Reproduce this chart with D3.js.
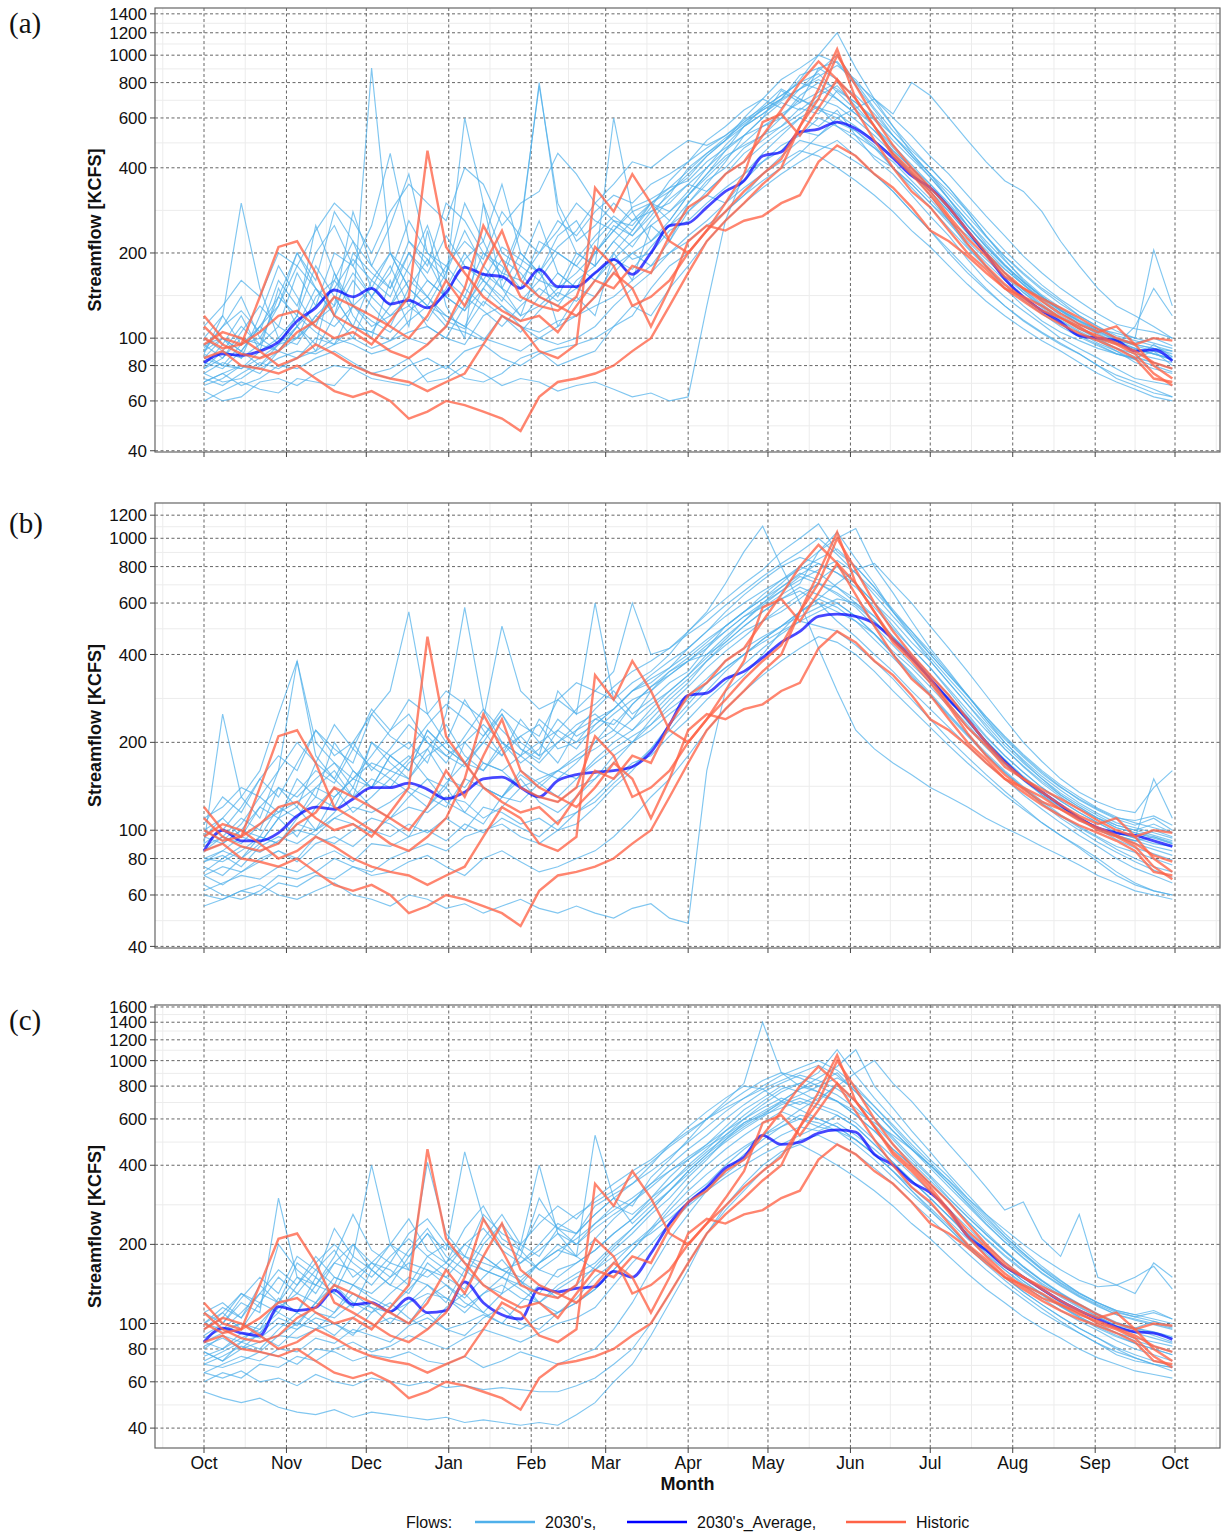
<!DOCTYPE html>
<html>
<head>
<meta charset="utf-8">
<script src="https://cdn.jsdelivr.net/npm/d3@7"></script>
<style>
    html, body { margin:0; padding:0; background:#fff; }
    svg text { font-family:"Liberation Sans", Arial, sans-serif; fill:#111; }
</style>
</head>
<body>
<svg id="chart" width="1222" height="1534"></svg>
<script>
(function(window) {
    'use strict';

    /******************************************************************
        data: sample days (days since Oct 1), ticks, series
     ******************************************************************/
    var days = [0,7,14,21,28,35,42,49,56,63,70,77,84,91,98,105,112,119,126,133,
                140,147,154,161,168,175,182,189,196,203,210,217,224,231,238,245,
                252,259,266,273,280,287,294,301,308,315,322,329,336,343,350,357,364];

    var monthDays = [0,31,61,92,123,151,182,212,243,273,304,335,365];
    var monthLabels = ['Oct','Nov','Dec','Jan','Feb','Mar','Apr','May','Jun','Jul','Aug','Sep','Oct'];

    var ticksA = [40,60,80,100,200,400,600,800,1000,1200,1400];
    var ticksB = [40,60,80,100,200,400,600,800,1000,1200];
    var ticksC = [40,60,80,100,200,400,600,800,1000,1200,1400,1600];

    // historic flows (same in every panel)
    var historic = [
        [100,92,95,105,120,125,110,100,105,95, 115,140,460,210,170,140,125,115,120,105,
         130,160,150,180,170,230,290,320,380,420, 520,640,800,950,820,700,560,450,390,330,
         270,225,195,165,150,138,128,118,108,100, 95,100,98],
        [120,100,95,140,210,220,170,120,110,100, 90,85,95,110,150,250,190,140,130,125,
         140,210,180,130,140,160,200,240,280,330, 380,430,560,700,1000,780,600,480,400,340,
         290,240,200,170,150,135,122,112,105,110, 95,80,72],
        [85,90,80,78,75,80,72,65,62,65, 60,52,55,60,58,55,52,47,62,70,
         72,75,80,90,100,130,170,220,260,300, 350,400,560,760,1050,700,560,440,380,320,
         265,215,180,155,138,125,118,110,100,95, 88,75,68],
        [95,105,100,90,80,85,95,88,80,75, 72,70,65,70,75,95,120,110,90,85,
         95,340,280,380,300,220,200,240,300,380, 580,620,520,650,820,640,500,400,330,290,
         240,200,175,150,135,122,112,104,98,92, 85,72,70],
        [110,95,88,85,90,105,115,140,130,120, 110,100,120,160,130,180,240,160,140,130,
         120,140,170,150,110,150,220,250,240,260, 270,300,320,420,480,440,380,340,290,240,
         220,195,170,150,140,130,118,108,102,96, 90,82,78]
    ];

    var meanA = [82,88,87,90,97,115,128,148,140,150, 132,136,128,145,178,168,165,150,175,152,
                 152,170,190,168,200,250,255,290,330,360, 440,455,535,548,580,550,495,433,375,340,
                 290,240,198,162,140,125,114,102,100,98, 90,91,83];
    var meanB = [85,100,92,92,98,112,120,118,128,140, 140,145,138,128,135,150,152,140,130,148,
                 155,158,160,165,185,230,290,295,330,350, 390,440,480,540,550,540,510,450,390,330,
                 280,240,200,172,150,135,122,110,102,98, 96,92,88];
    var meanC = [85,96,92,90,116,112,115,134,118,120, 111,125,110,112,144,120,108,104,136,132,
                 136,138,158,150,185,240,288,330,390,430, 520,480,490,530,545,535,440,400,345,315,
                 270,215,190,165,150,135,122,112,104,97, 93,92,87];

    var runsA = [
        [80,95,120,90,150,110,95,170,120,100, 160,110,240,130,100,300,150,120,180,110,
         140,120,200,160,250,220,300,350,420,520, 600,750,680,900,820,700,560,450,380,320,
         260,210,180,150,130,115,105,98,92,88, 85,90,80],
        [70,75,68,72,80,78,85,90,82,75, 78,85,70,72,80,75,68,72,70,65,
         68,70,66,62,64,60,62,130,260,380, 450,520,600,560,640,520,430,380,320,270,
         230,190,160,140,125,112,100,92,85,78, 72,70,68],
        [90,110,140,100,130,200,160,280,220,180, 250,380,200,170,300,220,160,240,800,280,
         200,180,220,260,300,280,330,400,480,560, 620,700,820,1000,1200,900,700,560,450,380,
         310,250,210,180,155,135,120,110,100,95, 110,150,120],
        [85,80,78,90,100,95,120,140,110,105, 130,160,140,120,110,150,190,170,140,130,
         160,180,220,190,200,240,260,300,340,380, 420,480,520,600,560,520,470,420,360,310,
         260,220,190,165,145,130,118,108,100,92, 88,85,82],
        [75,70,72,80,90,100,120,110,130,900, 200,150,130,120,110,100,95,90,100,110,
         120,140,180,200,220,260,320,380,460,560, 650,720,800,760,700,620,540,460,400,340,
         290,240,200,170,145,128,115,105,96,90, 82,78,75],
        [95,100,90,110,130,180,150,120,200,170, 150,220,190,160,600,300,200,180,160,150,
         170,200,250,230,280,300,350,330,380,450, 500,560,650,620,750,680,600,520,440,380,
         330,280,230,195,170,150,135,120,110,100, 95,92,90],
        [65,60,62,70,72,68,75,80,78,72, 70,68,75,80,72,70,75,85,90,80,
         85,90,110,120,150,180,200,240,280,320, 380,440,500,480,460,420,380,330,280,240,
         200,170,148,130,116,105,96,88,80,72, 68,64,62],
        [100,90,85,95,110,100,140,160,130,150, 200,170,140,180,150,130,170,250,780,300,
         220,250,300,260,280,320,400,450,500,600, 700,650,760,880,1000,800,650,540,460,400,
         340,280,230,190,160,140,125,112,104,96, 92,88,85],
        [88,120,300,150,100,120,250,170,130,110, 120,140,110,100,130,160,140,120,130,150,
         200,180,600,280,220,250,280,330,380,420, 480,540,600,660,560,500,440,400,350,300,
         260,230,200,175,155,138,125,115,108,104, 100,205,130],
        [78,85,100,95,90,110,130,200,180,250, 450,220,180,300,260,200,170,160,200,240,
         300,260,240,280,300,340,360,420,470,520, 560,600,700,650,620,560,500,440,380,330,
         280,235,200,170,148,130,116,106,98,90, 84,80,76],
        [72,68,75,82,78,85,90,100,95,88, 92,100,95,110,105,98,120,110,100,95,
         100,110,130,150,170,200,230,260,300,340, 380,420,460,440,400,360,320,280,240,210,
         180,155,135,120,108,98,90,82,75,70, 66,62,60],
        [110,130,160,140,200,180,240,300,260,200, 280,350,300,260,400,350,250,300,330,450,
         380,300,350,420,400,450,500,480,520,580, 640,700,850,900,950,800,700,600,520,440,
         380,320,270,230,195,170,150,135,122,112, 108,105,100],
        [82,78,90,110,95,100,115,130,170,140, 120,130,160,140,125,150,130,115,140,170,
         150,140,170,200,180,220,280,320,300,360, 420,460,540,520,580,540,480,400,350,300,
         255,215,185,160,140,125,112,102,95,88, 85,82,78],
        [90,100,85,120,180,140,110,160,220,150, 130,180,250,160,140,200,180,150,220,200,
         180,160,200,240,300,260,320,380,440,480, 520,600,720,800,700,620,540,460,400,350,
         300,250,210,180,158,140,126,115,106,98, 95,92,88],
        [70,75,80,78,85,90,88,95,100,92, 98,105,110,100,95,120,130,110,105,115,
         120,130,140,160,180,200,220,250,280,320, 360,400,450,520,600,650,700,620,800,720,
         600,500,420,360,330,280,220,180,150,130, 120,110,100],
        [60,65,70,66,64,72,70,68,80,75, 72,80,85,78,90,95,85,80,88,92,
         95,100,110,130,120,150,180,220,260,300, 340,380,420,460,500,440,380,330,280,240,
         205,175,150,130,115,104,95,88,80,74, 70,66,62],
        [95,85,105,130,110,170,130,150,190,160, 140,200,170,230,180,160,210,190,170,230,
         260,200,240,290,310,340,390,450,510,570, 640,700,760,820,760,680,590,500,430,370,
         310,260,220,188,162,142,128,116,107,100, 96,100,94],
        [85,100,90,80,95,120,105,95,130,115, 105,125,140,115,108,135,120,105,125,145,
         135,160,190,175,210,250,300,360,400,470, 520,560,620,700,660,590,520,450,385,330,
         280,235,198,170,148,132,118,108,99,92, 86,82,78],
        [78,90,110,95,140,120,180,140,110,160, 200,150,130,170,240,180,150,200,170,140,
         190,230,270,240,290,360,420,500,560,640, 700,820,900,1000,940,780,640,520,440,370,
         310,260,215,182,158,140,125,114,105,98, 92,88,84],
        [100,120,95,110,140,200,150,130,280,180, 150,200,160,140,190,220,350,200,170,210,
         240,300,260,230,270,330,370,440,500,580, 660,760,700,640,600,540,470,400,340,290,
         245,208,178,154,136,122,110,101,94,88, 84,95,86],
        [68,72,80,75,90,85,100,95,110,105, 98,115,130,110,140,125,110,130,150,135,
         150,170,190,220,250,280,320,370,430,490, 560,620,680,740,800,720,620,520,450,380,
         320,270,228,194,168,148,132,120,110,102, 98,94,90],
        [88,80,95,100,90,110,150,120,100,140, 180,130,115,150,200,160,135,180,260,170,
         150,200,240,210,260,310,350,400,460,520, 600,680,640,720,780,660,560,470,400,340,
         285,240,205,176,154,137,123,112,103,96, 91,88,84],
        [75,82,78,85,95,110,90,120,160,130, 110,150,190,140,125,170,150,135,160,200,
         180,220,260,250,300,330,380,440,500,560, 620,690,760,840,920,820,680,560,470,400,
         340,285,240,204,176,154,137,124,114,106, 100,96,92],
        [92,110,125,105,160,130,200,250,180,140, 170,260,200,180,220,190,280,230,200,260,
         230,280,320,300,350,380,420,470,520,590, 650,720,800,860,740,640,560,480,410,350,
         295,250,212,182,158,140,126,115,106,99, 94,90,86]
    ];

    var runsB = [
        [60,58,62,65,60,58,62,66,60,58, 55,60,58,54,56,52,55,58,54,52,
         55,52,50,54,56,50,48,160,300,340, 400,480,560,600,520,460,400,350,300,260,
         225,195,170,150,132,118,106,96,88,80, 74,70,66],
        [90,250,130,110,160,380,180,150,200,250, 300,560,250,200,280,220,180,240,200,170,
         220,260,300,250,280,320,350,420,500,560, 620,700,800,760,680,600,520,450,390,330,
         280,235,200,172,150,132,118,108,100,95, 92,100,95],
        [80,85,95,90,110,120,100,130,150,140, 160,180,150,140,200,170,160,180,200,220,
         260,300,280,320,350,400,480,560,700,900, 1100,800,600,420,300,220,190,170,155,140,
         130,120,110,102,95,88,82,76,70,66, 62,60,58],
        [75,70,80,95,90,110,130,120,160,140, 180,200,170,250,580,260,200,180,160,150,
         170,200,240,220,260,300,340,400,460,520, 600,680,750,820,760,700,600,500,420,360,
         300,250,210,180,158,140,126,115,106,98, 94,90,88],
        [100,110,95,120,140,130,150,170,140,200, 180,160,220,190,170,210,250,200,180,300,
         250,600,280,240,300,350,380,420,480,540, 580,640,700,900,1050,850,700,560,460,380,
         320,270,225,190,165,145,130,118,110,104, 100,105,98],
        [65,60,58,62,70,68,72,80,75,70, 72,78,82,75,70,80,85,78,72,75,
         80,85,95,110,130,150,180,220,260,300, 340,380,420,460,440,400,350,300,260,225,
         195,170,150,132,118,106,96,88,80,72, 66,62,60],
        [85,90,100,95,120,110,140,160,130,150, 140,170,190,150,140,170,160,140,150,160,
         180,200,220,200,240,280,320,380,430,480, 520,560,620,700,640,580,500,430,370,320,
         270,230,195,170,150,134,120,110,102,96, 92,88,85],
        [78,82,75,88,95,90,100,110,105,98, 110,120,115,130,125,110,120,140,130,125,
         140,150,170,200,220,250,280,320,360,400, 450,500,560,620,700,780,820,700,600,500,
         420,350,290,240,200,172,150,135,125,118, 115,140,160],
        [95,110,130,160,250,380,200,170,150,180, 220,250,200,180,200,230,200,170,190,240,
         210,230,260,300,330,360,400,450,500,560, 620,680,760,720,800,700,600,520,440,380,
         320,270,230,195,170,150,134,122,112,104, 100,96,92],
        [70,75,72,80,85,78,90,95,88,100, 95,105,98,110,100,120,115,105,110,100,
         115,130,150,170,180,210,240,280,320,370, 420,470,520,560,600,540,470,400,340,290,
         245,210,180,158,140,124,112,102,94,86, 80,75,72],
        [110,120,140,130,160,200,170,230,190,260, 220,280,250,300,270,240,500,300,260,280,
         320,300,350,600,400,420,480,550,620,700, 780,900,1000,1120,900,800,680,560,480,400,
         340,290,240,205,178,156,140,128,118,110, 108,112,104],
        [55,58,62,60,66,64,70,68,75,72, 80,85,90,85,95,100,105,95,90,100,
         105,120,140,160,190,230,270,320,360,400, 440,480,520,500,480,430,380,330,280,240,
         205,178,155,136,120,106,96,87,78,70, 65,62,60],
        [90,100,120,150,130,170,220,180,200,160, 190,230,200,170,210,260,220,190,170,200,
         230,250,220,270,310,340,380,400,440,500, 560,620,660,600,560,520,470,410,360,310,
         265,225,192,168,148,132,120,110,102,96, 92,95,90],
        [85,95,90,105,115,125,140,130,150,170, 160,150,180,200,170,160,190,210,180,200,
         220,240,260,300,340,380,420,480,540,600, 660,720,800,900,1000,1080,800,650,520,420,
         350,290,240,200,172,150,132,120,110,102, 98,94,90],
        [72,80,88,84,92,100,96,110,120,115, 125,140,130,120,150,140,130,125,145,160,
         150,170,190,210,230,260,290,330,380,420, 460,500,540,580,620,600,540,460,400,340,
         290,245,208,180,158,140,126,115,106,98, 94,150,110],
        [88,95,110,100,140,120,170,150,130,200, 170,150,190,230,180,160,200,180,240,210,
         190,230,260,300,320,360,420,480,560,640, 720,800,860,820,760,680,580,490,420,360,
         305,258,220,190,166,147,132,120,110,102, 98,95,91],
        [80,78,85,95,90,105,100,115,140,120, 110,130,150,125,115,140,130,160,145,130,
         150,175,200,220,250,290,330,380,440,500, 560,620,680,640,600,540,470,400,345,295,
         250,214,184,160,141,126,113,103,95,88, 84,80,76],
        [105,130,115,150,180,160,220,190,170,250, 210,190,230,270,240,210,260,230,210,280,
         250,270,310,350,380,420,470,520,590,660, 740,820,900,1000,880,760,640,540,460,390,
         330,280,235,200,174,153,137,124,114,106, 102,98,94],
        [70,65,72,78,85,80,95,90,100,110, 105,95,120,140,115,105,130,150,125,115,
         130,150,180,200,230,270,310,360,410,460, 520,580,640,700,680,620,540,460,390,330,
         280,238,202,174,152,135,121,110,101,93, 87,83,79],
        [95,90,100,120,110,150,130,200,160,140, 180,160,220,190,170,200,180,210,230,190,
         200,220,250,280,300,340,380,430,480,540, 600,660,720,780,840,760,660,560,470,400,
         340,288,244,208,180,158,141,127,117,109, 104,110,100],
        [78,85,80,90,110,95,120,140,115,130, 150,135,120,145,170,140,130,155,140,160,
         175,190,210,240,270,300,340,390,450,520, 590,660,740,700,650,590,520,450,385,330,
         280,238,203,175,153,136,122,111,102,95, 90,86,82],
        [100,92,105,130,115,135,160,145,190,165, 150,175,210,180,165,200,250,190,175,220,
         200,240,230,270,310,350,390,440,500,560, 640,720,780,850,920,800,680,570,480,410,
         345,290,245,210,182,160,143,130,119,111, 106,102,98],
        [62,66,70,68,75,72,80,85,78,90, 88,95,100,92,105,98,110,102,95,108,
         115,125,145,165,190,220,260,300,350,400, 450,500,560,620,580,520,450,390,335,290,
         248,212,182,158,139,123,110,100,91,84, 78,73,69]
    ];

    var runsC = [
        [55,52,50,52,48,46,45,47,44,46, 45,44,43,44,42,43,42,41,42,41,
         45,50,60,70,90,120,160,220,280,340, 400,450,480,440,400,360,320,280,240,210,
         180,155,135,120,106,96,88,80,74,70, 66,64,62],
        [65,62,66,60,62,58,64,60,58,62, 60,58,60,57,58,56,57,56,55,55,
         58,62,70,80,100,130,170,220,270,320, 380,440,500,520,480,440,390,340,290,250,
         215,185,160,140,124,110,100,92,84,76, 72,70,68],
        [90,100,120,110,300,150,130,170,200,160, 140,180,220,170,150,200,240,190,160,180,
         220,260,300,280,360,420,500,600,700,820, 1400,900,800,760,700,620,540,460,400,340,
         290,245,208,180,158,140,126,115,106,98, 95,90,85],
        [80,90,85,100,120,110,140,130,180,400, 200,160,410,220,180,160,150,140,170,200,
         180,160,190,220,260,300,360,420,500,580, 620,700,780,820,900,760,640,540,460,400,
         340,285,240,205,178,156,140,127,117,108, 104,100,96],
        [100,110,95,120,150,130,160,190,150,170, 200,180,220,190,450,250,200,180,300,230,
         200,240,280,260,300,340,400,460,540,620, 700,780,820,900,1100,880,720,600,500,420,
         360,300,255,215,185,160,142,128,118,110, 106,110,104],
        [75,80,88,95,110,100,120,140,120,110, 130,150,140,120,160,140,130,200,400,220,
         180,520,300,240,280,320,380,440,520,600, 680,760,820,760,700,620,540,460,400,340,
         290,245,210,182,160,142,128,116,106,98, 92,88,84],
        [70,68,72,78,75,70,80,78,72,76, 74,78,72,70,75,68,72,78,74,70,
         75,80,95,120,160,210,260,320,380,440, 500,560,620,600,560,500,440,380,320,270,
         230,195,168,146,128,114,102,92,84,78, 74,70,68],
        [85,80,92,88,100,95,110,105,120,115, 110,120,130,125,115,130,140,125,120,135,
         150,160,180,200,230,260,300,340,400,460, 520,580,650,720,800,900,1000,820,700,580,
         480,400,330,270,290,210,180,260,150,140, 130,170,150],
        [95,105,130,120,110,140,180,150,140,170, 160,140,180,200,170,160,150,180,160,150,
         170,190,220,250,300,360,420,480,560,650, 720,800,760,700,820,700,600,500,420,360,
         300,255,218,188,164,145,130,118,108,100, 96,92,88],
        [78,72,80,85,90,88,95,100,92,98, 105,100,110,95,100,108,100,95,105,110,
         120,135,160,190,230,280,340,400,460,520, 580,640,600,560,620,560,480,410,350,300,
         255,215,185,160,140,125,112,102,94,86, 80,76,72],
        [110,120,105,130,160,140,170,200,170,150, 180,210,180,160,200,230,190,170,200,240,
         220,260,300,340,400,480,560,640,720,800, 780,700,650,600,560,500,440,380,330,285,
         245,210,182,160,142,128,116,106,98,92, 88,85,82],
        [88,95,100,92,115,130,120,150,140,130, 150,170,160,150,180,170,160,150,170,190,
         210,240,270,300,340,380,420,470,520,580, 640,700,780,860,950,1100,800,660,540,450,
         370,310,260,220,190,165,146,130,120,112, 108,104,100],
        [72,78,85,80,95,110,100,90,105,120, 110,100,125,140,120,110,130,145,120,110,
         125,150,170,200,220,250,290,330,370,420, 470,520,560,540,580,520,460,400,350,300,
         255,220,190,165,145,130,117,106,97,90, 84,80,76],
        [100,95,110,130,120,150,140,170,160,140, 170,160,150,170,200,180,160,170,190,220,
         200,230,260,290,330,380,430,480,540,600, 660,720,680,740,700,640,580,520,460,400,
         350,300,260,228,200,178,160,146,138,140, 150,165,135],
        [60,65,62,70,68,75,72,80,85,78, 82,90,85,80,88,95,90,85,92,100,
         105,115,140,170,200,240,280,320,360,400, 440,480,520,560,540,500,440,380,320,275,
         235,200,172,150,132,118,106,96,88,80, 74,70,66],
        [85,92,100,95,125,110,150,130,115,160, 140,130,170,150,135,180,160,145,170,190,
         180,210,250,290,340,400,460,520,600,680, 760,820,880,840,780,700,600,510,430,365,
         310,262,222,190,165,146,131,119,109,101, 96,93,89],
        [70,75,82,78,90,100,95,110,130,115, 100,120,140,125,110,130,150,135,120,140,
         155,170,200,230,270,320,370,430,490,550, 610,680,720,680,640,580,500,430,370,318,
         272,232,198,172,151,134,120,109,100,92, 86,82,78],
        [95,110,130,115,200,160,140,180,260,190, 170,220,250,200,180,260,220,200,240,280,
         250,300,340,380,420,480,540,600,660,720, 780,840,900,960,880,760,640,540,460,390,
         330,280,238,204,177,155,139,126,116,108, 103,99,95],
        [78,72,85,90,82,95,105,100,90,110, 120,105,95,115,130,110,100,120,140,125,
         140,165,195,230,270,320,380,440,500,560, 620,660,700,660,620,560,480,410,350,300,
         256,220,190,165,145,129,116,105,96,89, 84,80,76],
        [110,100,125,150,130,180,160,140,200,170, 150,190,230,180,160,210,260,200,180,230,
         260,290,320,360,410,470,530,600,680,760, 840,900,860,800,740,660,570,480,410,350,
         298,254,218,188,164,145,130,118,108,100, 96,102,98],
        [82,88,80,92,105,98,120,110,140,125, 115,135,160,140,125,150,175,145,130,160,
         170,190,220,250,290,340,390,450,510,570, 630,690,740,800,860,780,670,570,480,410,
         348,294,250,214,185,162,145,131,120,111, 106,102,97],
        [65,70,75,72,80,78,88,84,95,90, 85,98,105,95,90,105,115,100,95,110,
         120,135,160,190,225,270,320,370,420,470, 520,560,600,580,540,480,420,360,310,268,
         230,198,172,150,132,118,106,96,88,81, 76,72,69],
        [100,115,105,140,120,170,150,230,180,160, 200,250,190,170,230,280,210,190,260,230,
         220,280,310,340,380,430,490,560,640,720, 800,880,940,1000,920,800,670,560,470,400,
         340,288,245,210,182,160,143,130,120,112, 108,112,104]
    ];

    /******************************************************************
        layout
     ******************************************************************/
    var LEFT = 155, RIGHT = 1220;

    var panels = [
        { label:'(a)', labelY:33,   top:8,    bottom:452,  lo:39.6, hi:1468, ticks:ticksA, runs:runsA, mean:meanA },
        { label:'(b)', labelY:533,  top:503,  bottom:948,  lo:39.5, hi:1321, ticks:ticksB, runs:runsB, mean:meanB },
        { label:'(c)', labelY:1030, top:1005, bottom:1448, lo:33.6, hi:1628, ticks:ticksC, runs:runsC, mean:meanC }
    ];

    var COL = { run:'#4fb0ea', mean:'#0000ff', hist:'#ff6347' };

    var svg = d3.select('#chart');

    var x = d3.scaleLinear().domain([0, 365]).range([204, 1175]);

    // minor x breaks: half way between month ticks, plus one beyond each end
    var minorX = [-15.5];
    monthDays.forEach(function(d, i) {
        if (i < monthDays.length - 1) minorX.push((d + monthDays[i+1]) / 2);
    });
    minorX.push(380.5);

    function drawPanel(p) {
        var g = svg.append('g').attr('class','panel');

        var y = d3.scaleLog().domain([p.lo, p.hi]).range([p.bottom, p.top]);

        var minorY = [];
        p.ticks.forEach(function(t, i) {
            if (i < p.ticks.length - 1) minorY.push(Math.sqrt(t * p.ticks[i+1]));
        });

        /**************************************************************
            grid
         **************************************************************/
        g.selectAll('.minor-x').data(minorX).enter()
            .append('line')
                .attr('x1', function(d){ return x(d); })
                .attr('x2', function(d){ return x(d); })
                .attr('y1', p.top).attr('y2', p.bottom)
                .style('stroke','#ececec').style('stroke-width', 1);

        g.selectAll('.minor-y').data(minorY).enter()
            .append('line')
                .attr('x1', LEFT).attr('x2', RIGHT)
                .attr('y1', function(d){ return y(d); })
                .attr('y2', function(d){ return y(d); })
                .style('stroke','#ececec').style('stroke-width', 1);

        g.selectAll('.major-x').data(monthDays).enter()
            .append('line')
                .attr('x1', function(d){ return x(d); })
                .attr('x2', function(d){ return x(d); })
                .attr('y1', p.top).attr('y2', p.bottom)
                .style('stroke','#555').style('stroke-width', 0.9)
                .style('stroke-dasharray','3,2.5');

        g.selectAll('.major-y').data(p.ticks).enter()
            .append('line')
                .attr('x1', LEFT).attr('x2', RIGHT)
                .attr('y1', function(d){ return y(d); })
                .attr('y2', function(d){ return y(d); })
                .style('stroke','#555').style('stroke-width', 0.9)
                .style('stroke-dasharray','3,2.5');

        /**************************************************************
            series
         **************************************************************/
        var line = d3.line()
            .x(function(d, i){ return x(days[i]); })
            .y(function(d){ return y(d); });

        var smooth = d3.line()
            .x(function(d, i){ return x(days[i]); })
            .y(function(d){ return y(d); })
            .curve(d3.curveMonotoneX);

        g.selectAll('.run').data(p.runs).enter()
            .append('path')
                .attr('d', line)
                .style('fill','none')
                .style('stroke', COL.run)
                .style('stroke-opacity', 0.72)
                .style('stroke-width', 1.15);

        g.append('path')
            .datum(p.mean)
            .attr('d', smooth)
            .style('fill','none')
            .style('stroke', COL.mean)
            .style('stroke-opacity', 0.72)
            .style('stroke-width', 2.8);

        g.selectAll('.hist').data(historic).enter()
            .append('path')
                .attr('d', line)
                .style('fill','none')
                .style('stroke', COL.hist)
                .style('stroke-opacity', 0.78)
                .style('stroke-width', 2.4);

        /**************************************************************
            frame, ticks, labels
         **************************************************************/
        g.append('rect')
            .attr('x', LEFT).attr('y', p.top)
            .attr('width', RIGHT - LEFT).attr('height', p.bottom - p.top)
            .style('fill','none').style('stroke','#666').style('stroke-width', 1.2);

        g.selectAll('.ytick').data(p.ticks).enter()
            .append('line')
                .attr('x1', LEFT - 5).attr('x2', LEFT)
                .attr('y1', function(d){ return y(d); })
                .attr('y2', function(d){ return y(d); })
                .style('stroke','#444').style('stroke-width', 1);

        g.selectAll('.ylab').data(p.ticks).enter()
            .append('text')
                .attr('x', LEFT - 8)
                .attr('y', function(d){ return y(d); })
                .attr('dy','0.36em')
                .attr('text-anchor','end')
                .style('font-size','17px')
                .text(function(d){ return d; });

        g.selectAll('.xtick').data(monthDays).enter()
            .append('line')
                .attr('x1', function(d){ return x(d); })
                .attr('x2', function(d){ return x(d); })
                .attr('y1', p.bottom).attr('y2', p.bottom + 5)
                .style('stroke','#444').style('stroke-width', 1);

        g.append('text')
            .attr('transform','translate(101,'+ ((p.top + p.bottom) / 2) +') rotate(-90)')
            .attr('text-anchor','middle')
            .style('font-size','18px')
            .style('font-weight','bold')
            .text('Streamflow [KCFS]');

        g.append('text')
            .attr('x', 9).attr('y', p.labelY)
            .style('font-family','"Liberation Serif", "Times New Roman", serif')
            .style('font-size','29px')
            .text(p.label);
    }

    panels.forEach(drawPanel);

    /******************************************************************
        x axis labels (bottom panel only)
     ******************************************************************/
    svg.selectAll('.month').data(monthDays).enter()
        .append('text')
            .attr('x', function(d){ return x(d); })
            .attr('y', 1469)
            .attr('text-anchor','middle')
            .style('font-size','17.5px')
            .text(function(d, i){ return monthLabels[i]; });

    svg.append('text')
        .attr('x', (LEFT + RIGHT) / 2).attr('y', 1490)
        .attr('text-anchor','middle')
        .style('font-size','18px')
        .style('font-weight','bold')
        .text('Month');

    /******************************************************************
        legend
     ******************************************************************/
    var legend = svg.append('g').attr('class','legend');

    legend.append('text')
        .attr('x', 406).attr('y', 1528)
        .style('font-size','16px')
        .text('Flows:');

    var items = [
        { name:"2030's,",         color:COL.run,  x0:475 },
        { name:"2030's_Average,", color:COL.mean, x0:627 },
        { name:'Historic',        color:COL.hist, x0:846 }
    ];

    items.forEach(function(d) {
        legend.append('line')
            .attr('x1', d.x0).attr('x2', d.x0 + 60)
            .attr('y1', 1522).attr('y2', 1522)
            .style('stroke', d.color).style('stroke-width', 2.4);

        legend.append('text')
            .attr('x', d.x0 + 70).attr('y', 1528)
            .style('font-size','16px')
            .text(d.name);
    });

})(window);
</script>
</body>
</html>
